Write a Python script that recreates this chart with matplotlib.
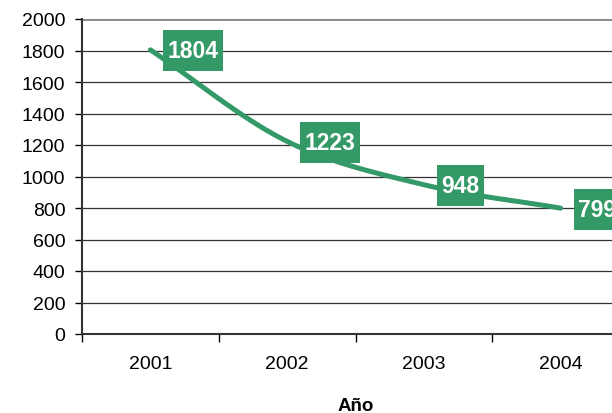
import matplotlib
matplotlib.use('agg')
import matplotlib.pyplot as plt
from matplotlib.path import Path
import numpy as np

years = ['2001', '2002', '2003', '2004']
values = [1804, 1223, 948, 799]

GREEN = '#339966'
plt.rcParams['font.family'] = ['Liberation Sans', 'DejaVu Sans']


def smooth(xs, ys, n=40):
    # catmull-rom curve through the points (Excel style smoothed line)
    px = np.concatenate([[2 * xs[0] - xs[1]], xs, [2 * xs[-1] - xs[-2]]])
    py = np.concatenate([[2 * ys[0] - ys[1]], ys, [2 * ys[-1] - ys[-2]]])
    outx, outy = [], []
    t = np.linspace(0, 1, n)
    for i in range(1, len(px) - 2):
        for p, out in ((px, outx), (py, outy)):
            p0, p1, p2, p3 = p[i - 1], p[i], p[i + 1], p[i + 2]
            out.extend(0.5 * (2 * p1 + (-p0 + p2) * t +
                              (2 * p0 - 5 * p1 + 4 * p2 - p3) * t ** 2 +
                              (-p0 + 3 * p1 - 3 * p2 + p3) * t ** 3))
    return np.array(outx), np.array(outy)


def label_box(x0, y0, width, height, mutation_size):
    # small side padding, tall box like the excel data labels
    padx = 0.2 * mutation_size
    h = 1.8 * mutation_size
    cy = y0 + height / 2
    return Path.unit_rectangle().transformed(
        matplotlib.transforms.Affine2D().scale(width + 2 * padx, h)
        .translate(x0 - padx, cy - h / 2))


fig = plt.figure(figsize=(6.12, 4.14), dpi=100)
ax = fig.add_axes([82 / 612, 79 / 414, 547 / 612, 315 / 414])

x = np.arange(len(years)) + 0.5
sx, sy = smooth(x.astype(float), np.array(values, dtype=float))
ax.plot(sx, sy, color=GREEN, lw=3.6, solid_capstyle='round', zorder=3)

for xi, v in zip(x, values):
    ax.annotate(str(v), (xi, v), xytext=(17.5, -1), textcoords='offset pixels',
                ha='left', va='center', color='white', fontsize=16.5,
                fontweight='bold', zorder=4,
                bbox=dict(boxstyle=label_box, fc=GREEN, ec='none'),
                annotation_clip=False)

ax.set_xlim(0, 4)
ax.set_ylim(0, 2000)
ax.set_yticks(np.arange(0, 2001, 200))
ax.set_xticks([0, 1, 2, 3, 4])
ax.set_xticklabels([])
ax.set_xticks(x, minor=True)
ax.set_xticklabels(years, minor=True)
ax.tick_params(axis='x', which='minor', length=0, pad=15, labelsize=14)
ax.tick_params(axis='x', which='major', length=6, direction='out', width=1)
ax.tick_params(axis='y', length=5, direction='out', width=1, labelsize=14, pad=7)

ax.grid(axis='y', color='#333333', lw=0.9)
ax.set_axisbelow(True)
for s in ['top', 'right']:
    ax.spines[s].set_visible(False)
ax.spines['left'].set_color('#333333')
ax.spines['bottom'].set_color('#333333')
ax.spines['left'].set_linewidth(1.5)
ax.spines['bottom'].set_linewidth(1.5)
ax.axhline(2000, color='#888888', lw=2, zorder=1)

ax.set_xlabel('Año', fontsize=13.5, fontweight='bold', labelpad=18)

fig.savefig('out.png', dpi=100)
